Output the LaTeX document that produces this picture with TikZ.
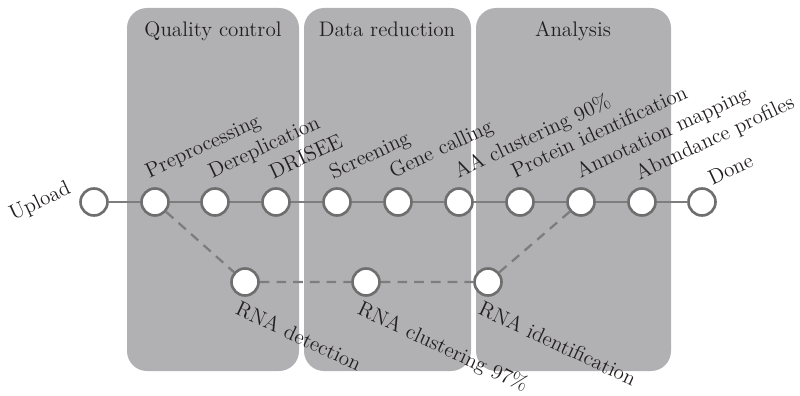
\documentclass[tikz,border=0pt]{standalone}
\usetikzlibrary{calc}

\definecolor{panelgray}{HTML}{B1B1B4}
\definecolor{ringgray}{HTML}{6E6E6E}
\definecolor{linegray}{HTML}{7D7D7D}
\definecolor{inkgray}{HTML}{231F20}

\tikzset{
  panel/.style={fill=panelgray, rounded corners=0.4cm},
  title/.style={anchor=base, inner sep=0pt, text=inkgray},
  stepnode/.style={circle, draw=ringgray, fill=white, line width=1.5pt, minimum size=0.54cm, inner sep=0pt},
  flow/.style={draw=linegray, line width=1.3pt},
  rnaflow/.style={flow, dash pattern=on 5.5pt off 4pt},
  uplab/.style={anchor=base west, rotate=25, inner sep=0pt, text=inkgray},
  lowlab/.style={anchor=base west, rotate=-25, inner sep=0pt, text=inkgray}
}

\begin{document}
\begin{tikzpicture}[x=0.02cm, y=-0.02cm, font=\fontsize{12}{14}\selectfont]
	\useasboundingbox (0,0) rectangle (800,395);

	% Panels
	\path[panel] (127,8) rectangle (299,371);
	\path[panel] (304,8) rectangle (471,371);
	\path[panel] (476,8) rectangle (671,371);

	% Panel titles
	\node[title] (qc) at (213,37) {Quality control};
	\node[title] (dr) at (387,37) {Data reduction};
	\node[title] (an) at (573,37) {Analysis};

	% Steps
	\node[stepnode] (upload) at (94,202) {};
	\node[stepnode] (pre) at (155,202) {};
	\node[stepnode] (derep) at (215,202) {};
	\node[stepnode] (drisee) at (276,202) {};
	\node[stepnode] (screen) at (337,202) {};
	\node[stepnode] (gene) at (398,202) {};
	\node[stepnode] (aaclust) at (459,202) {};
	\node[stepnode] (protid) at (520,202) {};
	\node[stepnode] (annot) at (581,202) {};
	\node[stepnode] (abund) at (642,202) {};
	\node[stepnode] (done) at (702,202) {};

	% RNA steps
	\node[stepnode] (rnadet) at (245,282) {};
	\node[stepnode] (rnaclust) at (366,282) {};
	\node[stepnode] (rnaid) at (488,282) {};

	% Main pipeline
	\draw[flow] (upload) -- (pre) -- (derep) -- (drisee) -- (screen) -- (gene)
		-- (aaclust) -- (protid) -- (annot) -- (abund) -- (done);

	% RNA branch
	\draw[rnaflow] (pre) -- (rnadet) -- (rnaclust) -- (rnaid) -- (annot);

	% Step labels
	\node[anchor=base east, rotate=25, inner sep=0pt, text=inkgray] (uploadlab) at ($(upload.west)+(-7,-9)$) {Upload};
	\node[uplab] (prelab) at ($(pre.north)+(-6,-9)$) {Preprocessing};
	\node[uplab] (dereplab) at ($(derep.north)+(-3,-9)$) {Dereplication};
	\node[uplab] (driseelab) at ($(drisee.north)+(-3,-8)$) {DRISEE};
	\node[uplab] (screenlab) at ($(screen.north)+(-4,-8)$) {Screening};
	\node[uplab] (genelab) at ($(gene.north)+(-5,-9)$) {Gene calling};
	\node[uplab] (aaclustlab) at ($(aaclust.north)+(-1,-9)$) {AA clustering 90\%};
	\node[uplab] (protidlab) at ($(protid.north)+(-5,-9)$) {Protein identification};
	\node[uplab] (annotlab) at ($(annot.north)+(-1,-9)$) {Annotation mapping};
	\node[uplab] (abundlab) at ($(abund.north)+(-3,-7)$) {Abundance profiles};
	\node[uplab] (donelab) at ($(done.north)+(10,-2)$) {Done};

	\node[lowlab] (rnadetlab) at ($(rnadet.south)+(-11,17)$) {RNA detection};
	\node[lowlab] (rnaclustlab) at ($(rnaclust.south)+(-10,17)$) {RNA clustering 97\%};
	\node[lowlab] (rnaidlab) at ($(rnaid.south)+(-11,17)$) {RNA identification};
\end{tikzpicture}
\end{document}
